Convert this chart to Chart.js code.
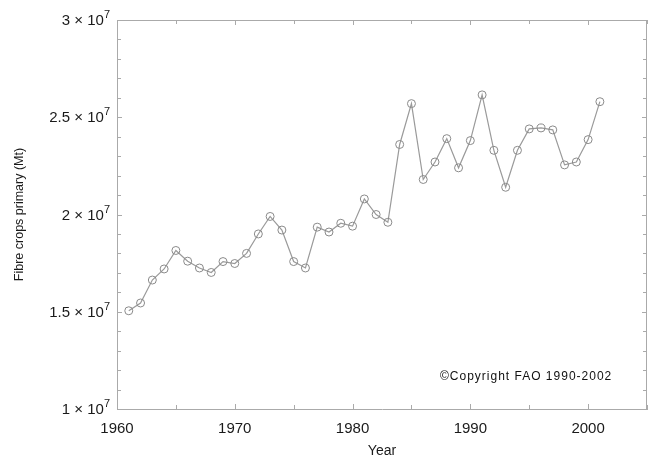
<!DOCTYPE html>
<html>
<head>
<meta charset="utf-8">
<script src="https://cdn.jsdelivr.net/npm/chart.js@4.4.1/dist/chart.umd.min.js"></script>
<style>
  html, body { margin: 0; padding: 0; background: #fff; }
  #wrap { width: 652px; height: 462px; position: relative; }
</style>
</head>
<body>
<div id="wrap"><canvas id="fibreChart" width="652" height="462"></canvas></div>
<script>
// Fibre crops primary production (Mt), FAO
const years = [1961, 1962, 1963, 1964, 1965, 1966, 1967, 1968, 1969, 1970,
               1971, 1972, 1973, 1974, 1975, 1976, 1977, 1978, 1979, 1980,
               1981, 1982, 1983, 1984, 1985, 1986, 1987, 1988, 1989, 1990,
               1991, 1992, 1993, 1994, 1995, 1996, 1997, 1998, 1999, 2000, 2001];
const production = [1.505e7, 1.545e7, 1.663e7, 1.72e7, 1.815e7, 1.76e7, 1.725e7, 1.702e7, 1.758e7, 1.748e7,
                    1.80e7, 1.90e7, 1.99e7, 1.92e7, 1.758e7, 1.725e7, 1.935e7, 1.91e7, 1.955e7, 1.94e7,
                    2.08e7, 2.00e7, 1.96e7, 2.36e7, 2.57e7, 2.18e7, 2.27e7, 2.39e7, 2.24e7, 2.38e7,
                    2.615e7, 2.33e7, 2.14e7, 2.33e7, 2.44e7, 2.445e7, 2.435e7, 2.255e7, 2.27e7, 2.385e7, 2.58e7];
const xTickLabels = [1960, 1970, 1980, 1990, 2000];
const yTickLabels = [1e7, 1.5e7, 2e7, 2.5e7, 3e7];

Chart.defaults.font.family = '"Liberation Sans", Arial, sans-serif';
Chart.defaults.color = '#1a1a1a';

// frame on top/right, inward ticks on all four sides, y labels with superscript, copyright note
const framePlugin = {
    id: 'frame',
    afterDraw(chart) {
        const ctx = chart.ctx;
        const a = chart.chartArea;
        const xs = chart.scales.x, ys = chart.scales.y;
        ctx.save();
        ctx.strokeStyle = '#aaa';
        ctx.lineWidth = 1;
        ctx.beginPath();
        ctx.moveTo(a.left, a.top + 0.5);
        ctx.lineTo(a.right, a.top + 0.5);
        ctx.moveTo(a.right - 0.5, a.top);
        ctx.lineTo(a.right - 0.5, a.bottom);
        ctx.stroke();

        ctx.beginPath();
        for (let yr = 1960; yr <= 2005; yr += 5) {
            const px = Math.round(xs.getPixelForValue(yr)) + 0.5;
            const len = yr % 10 === 0 ? 5 : 4;
            ctx.moveTo(px, a.bottom); ctx.lineTo(px, a.bottom - len);
            ctx.moveTo(px, a.top); ctx.lineTo(px, a.top + len);
        }
        for (let v = 1e7; v <= 3e7; v += 1e6) {
            const py = Math.round(ys.getPixelForValue(v)) + 0.5;
            const len = v % 5e6 === 0 ? 5 : 4;
            ctx.moveTo(a.left, py); ctx.lineTo(a.left + len, py);
            ctx.moveTo(a.right, py); ctx.lineTo(a.right - len, py);
        }
        ctx.stroke();

        // y tick labels: "m × 10" with a raised exponent
        ctx.fillStyle = '#1a1a1a';
        ctx.textAlign = 'right';
        ctx.textBaseline = 'middle';
        const right = a.left - 7;
        yTickLabels.forEach(v => {
            const py = ys.getPixelForValue(v);
            ctx.font = '11px "Liberation Sans", Arial, sans-serif';
            ctx.fillText('7', right, py - 5);
            const w = ctx.measureText('7').width;
            ctx.font = '15px "Liberation Sans", Arial, sans-serif';
            ctx.fillText((v / 1e7) + ' \u00D7 10', right - w, py + 1);
        });

        ctx.fillStyle = '#111';
        ctx.font = '12px "Liberation Sans", Arial, sans-serif';
        ctx.letterSpacing = '1px';
        ctx.textAlign = 'left';
        ctx.fillText('\u00A9Copyright FAO 1990-2002', 440, 377);
        ctx.restore();
    }
};

const ctx = document.getElementById('fibreChart').getContext('2d');
new Chart(ctx, {
    type: 'line',
    data: {
        datasets: [{
            data: years.map((yr, i) => ({ x: yr, y: production[i] })),
            borderColor: '#9a9a9a',
            borderWidth: 1.2,
            tension: 0,
            pointRadius: 4,
            pointBackgroundColor: 'rgba(255,255,255,0)',
            pointBorderColor: '#8a8a8a',
            pointBorderWidth: 1
        }]
    },
    options: {
        responsive: false,
        animation: false,
        layout: { padding: { top: 20, right: 5, left: 0, bottom: 0 } },
        plugins: {
            legend: { display: false },
            tooltip: { enabled: false }
        },
        scales: {
            x: {
                type: 'linear',
                min: 1960,
                max: 2005,
                afterFit: s => { s.height = 53; },
                afterBuildTicks: s => { s.ticks = xTickLabels.map(v => ({ value: v })); },
                grid: { display: false, drawTicks: false },
                border: { display: true, color: '#aaa' },
                ticks: {
                    padding: 11,
                    maxRotation: 0,
                    font: { size: 15 },
                    callback: v => String(v)
                },
                title: {
                    display: true,
                    text: 'Year',
                    font: { size: 14 },
                    padding: { top: 0, bottom: 2 }
                }
            },
            y: {
                min: 1e7,
                max: 3e7,
                afterFit: s => { s.width = 117; },
                afterBuildTicks: s => { s.ticks = yTickLabels.map(v => ({ value: v })); },
                grid: { display: false, drawTicks: false },
                border: { display: true, color: '#aaa' },
                // labels are drawn by the frame plugin (exponent needs its own size)
                ticks: { display: false },
                title: {
                    display: true,
                    text: 'Fibre crops primary (Mt)',
                    font: { size: 12.5 },
                    padding: { top: 12, bottom: 0 }
                }
            }
        }
    },
    plugins: [framePlugin]
});
</script>
</body>
</html>
